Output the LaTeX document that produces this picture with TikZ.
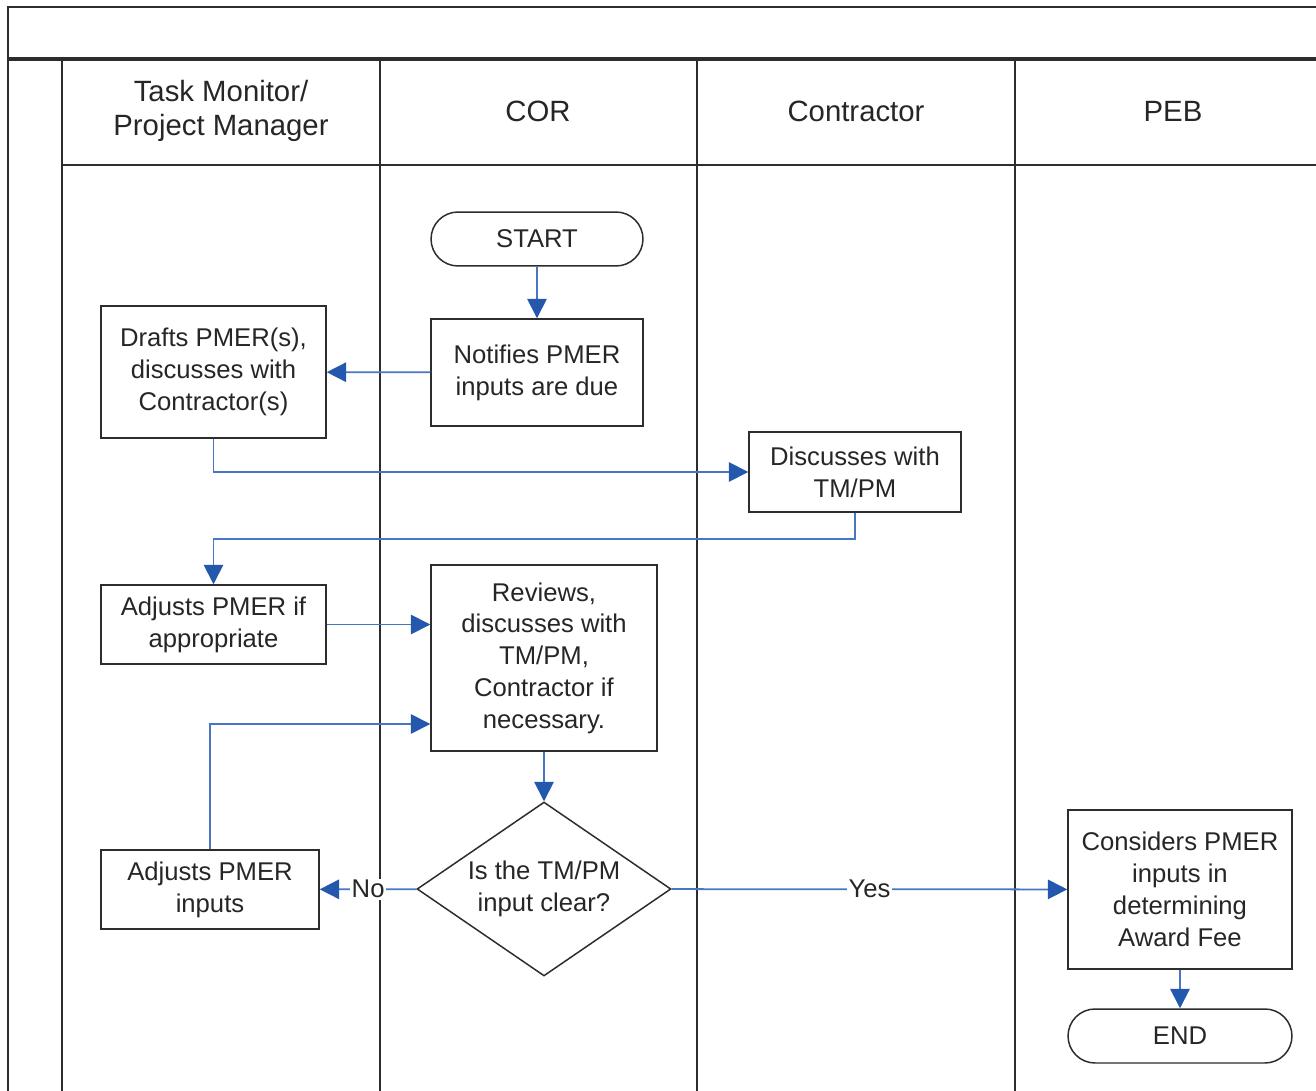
\documentclass[tikz,border=0pt]{standalone}
\usepackage{fontspec}
\setmainfont{Liberation Sans}
\usepackage{tikz}
\usetikzlibrary{arrows.meta}
\usetikzlibrary{shapes.geometric}

\definecolor{flowblue}{RGB}{72,118,196}
\definecolor{tipblue}{RGB}{36,88,172}
\definecolor{lanegray}{RGB}{45,45,45}

\begin{document}
\begin{tikzpicture}[x=0.02cm,y=-0.02cm]
\useasboundingbox (0,0) rectangle (1316,1091);
\begin{scope}[draw=lanegray, line width=1.1pt]
	\draw (1316,7) -- (8,7) -- (8,1091);
	\draw[line width=2pt] (8,59) -- (1316,59);
	\draw (62,165) -- (1316,165);
	\draw (62,59) -- (62,1091);
	\draw (380,59) -- (380,1091);
	\draw (697,59) -- (697,1091);
	\draw (1015,59) -- (1015,1091);
\end{scope}

\begin{scope}[every node/.style={align=center,font=\fontsize{16.7}{19.8}\selectfont,text=black!85}]
	\node (tm) at (221,111) {Task Monitor/\\Project Manager};
	\node (cor) at (538,111) {COR};
	\node (con) at (856,111) {Contractor};
	\node (peb) at (1173,111) {PEB};
\end{scope}

\begin{scope}[every node/.style={rectangle,draw=lanegray,line width=0.85pt,align=center,inner sep=0pt,
              font=\fontsize{14.6}{18.1}\selectfont,text=black!85}]
	\node[minimum width=4.24cm,minimum height=1.08cm,rounded corners=0.54cm] (1) at (537,239) {START};
	\node[minimum width=4.24cm,minimum height=2.14cm] (2) at (537,372.5) {Notifies PMER\\inputs are due};
	\node[minimum width=4.5cm,minimum height=2.64cm] (3) at (213.5,372) {Drafts PMER(s),\\discusses with\\Contractor(s)};
	\node[minimum width=4.24cm,minimum height=1.6cm] (4) at (855,472) {Discusses with\\TM/PM};
	\node[minimum width=4.5cm,minimum height=1.58cm] (5) at (213.5,624.5) {Adjusts PMER if\\appropriate};
	\node[minimum width=4.52cm,minimum height=3.72cm] (6) at (544,658) {Reviews,\\discusses with\\TM/PM,\\Contractor if\\necessary.};
	\node[diamond,aspect=1.46,minimum width=5.08cm,minimum height=3.48cm] (7) at (544,889) {Is the TM/PM\\input clear?};
	\node[minimum width=4.36cm,minimum height=1.58cm] (8) at (210,889.5) {Adjusts PMER\\inputs};
	\node[minimum width=4.48cm,minimum height=3.18cm] (9) at (1180,889.5) {Considers PMER\\inputs in\\determining\\Award Fee};
	\node[minimum width=4.48cm,minimum height=1.08cm,rounded corners=0.54cm] (10) at (1180,1036) {END};
\end{scope}

\begin{scope}[>={Triangle[length=11pt,width=11pt,color=tipblue]},
              every node/.style={fill=white,inner sep=1pt,text=black!85,font=\fontsize{14.6}{18.1}\selectfont},
              every edge/.style={draw=flowblue,line width=1pt,->}]
	\path (1) edge (2);
	\path (2) edge (3);
	\path (3.south) edge[to path={|- (\tikztotarget)}] (4.west);
	\path (4.south) edge[to path={-- ++(0,26) -| (\tikztotarget)}] (5.north);
	\path (5.east) edge (5.east -| 6.west);
	\path (8.north) edge[to path={|- (\tikztotarget)}] (6.west |- 0,724);
	\path (6) edge (7);
	\path (7) edge node {No} (8);
	\path (7) edge node {Yes} (9);
	\path (9) edge (10);
\end{scope}
\end{tikzpicture}
\end{document}
